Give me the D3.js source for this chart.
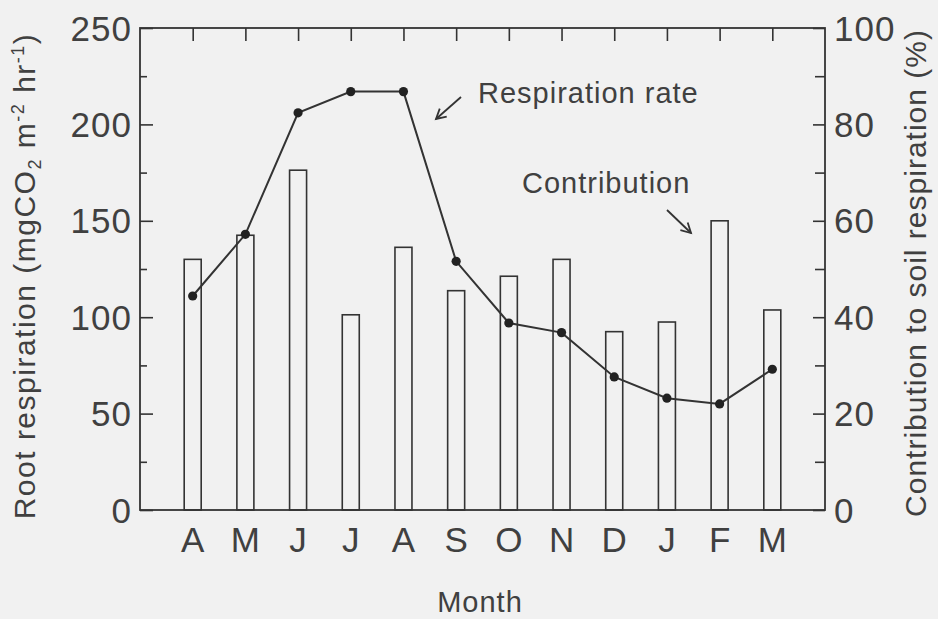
<!DOCTYPE html>
<html>
<head>
<meta charset="utf-8">
<script src="https://cdn.jsdelivr.net/npm/d3@7"></script>
<style>
  html, body { margin: 0; padding: 0; background: #f1f1f1; }
  svg { display: block; }
  text { font-family: "Liberation Sans", Arial, Helvetica, sans-serif; fill: #404040; }
</style>
</head>
<body>
<svg id="chart" width="938" height="619"></svg>
<script>
// ---- data ----
const months = ["A", "M", "J", "J", "A", "S", "O", "N", "D", "J", "F", "M"];
const respirationRate = [111, 143, 206, 217, 217, 129, 97, 92, 69, 58, 55, 73];      // mgCO2 m-2 hr-1 (left axis, line)
const contribution = [52, 57, 70.5, 40.5, 54.5, 45.5, 48.5, 52, 37, 39, 60, 41.5];   // % (right axis, bars)
const leftTicks = [0, 50, 100, 150, 200, 250];
const rightTicks = [0, 20, 40, 60, 80, 100];

// ---- layout ----
const svg = d3.select("#chart");
const L = 140, R = 825, T = 28, B = 510;
const ink = "#333";

const x = d3.scalePoint().domain(d3.range(months.length)).range([L, R]).padding(1);
const yL = d3.scaleLinear().domain([0, 250]).range([B, T]);
const yR = d3.scaleLinear().domain([0, 100]).range([B, T]);

// bars (contribution)
const barW = 17;
svg.append("g").selectAll("rect").data(contribution).join("rect")
  .attr("x", (d, i) => x(i) - barW / 2)
  .attr("y", d => yR(d))
  .attr("width", barW)
  .attr("height", d => B - yR(d))
  .attr("fill", "none")
  .attr("stroke", ink)
  .attr("stroke-width", 1.6);

// line (respiration rate)
const line = d3.line().x((d, i) => x(i)).y(d => yL(d));
svg.append("path").datum(respirationRate)
  .attr("d", line).attr("fill", "none").attr("stroke", ink).attr("stroke-width", 2);
svg.append("g").selectAll("circle").data(respirationRate).join("circle")
  .attr("cx", (d, i) => x(i)).attr("cy", d => yL(d)).attr("r", 4.6).attr("fill", "#222");

// frame
svg.append("rect").attr("x", L).attr("y", T).attr("width", R - L).attr("height", B - T)
  .attr("fill", "none").attr("stroke", ink).attr("stroke-width", 1.8);

// left axis (ticks inward)
const axL = d3.axisRight(yL).tickValues(d3.range(0, 251, 25)).tickSize(0).tickFormat("");
const gL = svg.append("g").attr("transform", `translate(${L},0)`).call(axL);
gL.select(".domain").remove();
gL.selectAll(".tick line").attr("x2", d => d % 50 === 0 ? 13 : 7).attr("stroke", ink).attr("stroke-width", 1.6);
svg.append("g").selectAll("text").data(leftTicks).join("text")
  .attr("x", L - 8).attr("y", d => yL(d)).attr("dy", "0.36em")
  .attr("text-anchor", "end").attr("font-size", 35).attr("letter-spacing", 1)
  .text(d => d);

// right axis (ticks inward)
const axR = d3.axisLeft(yR).tickValues(d3.range(0, 101, 10)).tickSize(0).tickFormat("");
const gR = svg.append("g").attr("transform", `translate(${R},0)`).call(axR);
gR.select(".domain").remove();
gR.selectAll(".tick line").attr("x2", d => d % 20 === 0 ? -12 : -10).attr("stroke", ink).attr("stroke-width", 1.6);
svg.append("g").selectAll("text").data(rightTicks).join("text")
  .attr("x", R + 9).attr("y", d => yR(d)).attr("dy", "0.36em")
  .attr("text-anchor", "start").attr("font-size", 35).attr("letter-spacing", 1)
  .text(d => d);

// top ticks at month centres (pointing down)
const axT = d3.axisBottom(x).tickSize(13).tickFormat("");
const gT = svg.append("g").attr("transform", `translate(0,${T})`).call(axT);
gT.select(".domain").remove();
gT.selectAll(".tick line").attr("stroke", ink).attr("stroke-width", 1.6);

// month labels
const axB = d3.axisBottom(x).tickSize(0).tickFormat(i => months[i]);
const gB = svg.append("g").attr("transform", `translate(0,${B})`).call(axB);
gB.select(".domain").remove();
gB.selectAll(".tick text").attr("y", 0).attr("dy", 42)
  .attr("font-size", 35).attr("letter-spacing", 1).attr("fill", "#404040")
  .attr("font-family", "Liberation Sans, Arial, sans-serif");

// x title
svg.append("text").attr("x", 480).attr("y", 612).attr("text-anchor", "middle")
  .attr("font-size", 29).attr("letter-spacing", 1).text("Month");

// left title
const lt = svg.append("text").attr("transform", "translate(35,276) rotate(-90)")
  .attr("text-anchor", "middle").attr("font-size", 30).attr("letter-spacing", 1.5);
lt.append("tspan").text("Root respiration (mgCO");
lt.append("tspan").attr("font-size", 18).attr("dy", 6).text("2");
lt.append("tspan").attr("dy", -6).text(" m");
lt.append("tspan").attr("font-size", 18).attr("dy", -11).text("-2");
lt.append("tspan").attr("dy", 11).text(" hr");
lt.append("tspan").attr("font-size", 18).attr("dy", -11).text("-1");
lt.append("tspan").attr("dy", 11).text(")");

// right title
svg.append("text").attr("transform", "translate(926,273) rotate(-90)")
  .attr("text-anchor", "middle").attr("font-size", 30).attr("letter-spacing", 1)
  .text("Contribution to soil respiration (%)");

// annotations
function arrow(x1, y1, x2, y2) {
  const g = svg.append("g").attr("stroke", ink).attr("stroke-width", 1.8).attr("fill", "none");
  g.append("line").attr("x1", x1).attr("y1", y1).attr("x2", x2).attr("y2", y2);
  const a = Math.atan2(y1 - y2, x1 - x2), len = 11, s = 0.5;
  g.append("path").attr("d",
    `M${x2 + len * Math.cos(a - s)},${y2 + len * Math.sin(a - s)} L${x2},${y2} L${x2 + len * Math.cos(a + s)},${y2 + len * Math.sin(a + s)}`);
}
svg.append("text").attr("x", 478).attr("y", 103).attr("font-size", 29).attr("letter-spacing", 1).text("Respiration rate");
arrow(461, 97, 436, 119);
svg.append("text").attr("x", 522).attr("y", 193).attr("font-size", 29).attr("letter-spacing", 1).text("Contribution");
arrow(667, 210, 691, 233);
</script>
</body>
</html>
